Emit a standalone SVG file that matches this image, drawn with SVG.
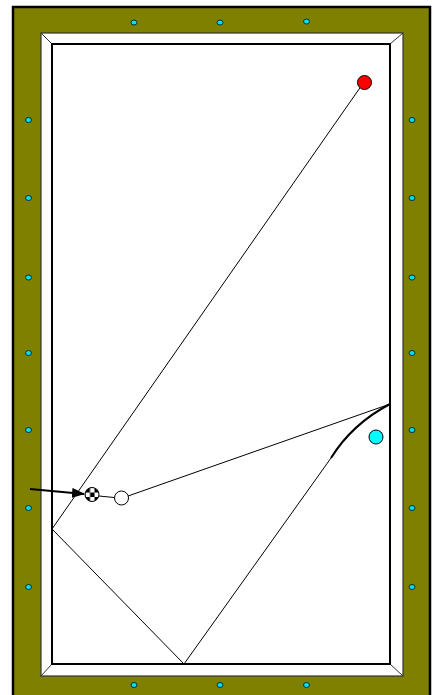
<svg xmlns="http://www.w3.org/2000/svg" width="433" height="695" viewBox="0 0 433 695">
<style>
.dia{fill:#00e0e8;stroke:#003040;stroke-width:1}
.path{fill:none;stroke:#000;stroke-width:1}
.ball{stroke:#000;stroke-width:1}
</style>
<defs>
<pattern id="chk" x="85.5" y="488" width="9" height="9" patternUnits="userSpaceOnUse">
<rect width="9" height="9" fill="#fff"/>
<rect width="4.5" height="4.5" fill="#000"/>
<rect x="4.5" y="4.5" width="4.5" height="4.5" fill="#000"/>
</pattern>
<marker id="arr" markerWidth="13" markerHeight="10" refX="12" refY="5" orient="auto" markerUnits="userSpaceOnUse">
<path d="M0,0 L13,5 L0,10 Z" fill="#000"/>
</marker>
</defs>
<rect width="433" height="695" fill="#fff"/>
<g id="table">
<rect x="13" y="7" width="417" height="700" fill="#808000" stroke="#000" stroke-width="2.5"/>
<rect x="41" y="33" width="362" height="643" fill="#fff" stroke="#333" stroke-width="1.2"/>
<path d="M41,33 L52,44 M403,33 L390,44 M41,676 L52,664 M403,676 L390,664" stroke="#333" stroke-width="1"/>
<rect x="52" y="44" width="338" height="620" fill="#fff" stroke="#000" stroke-width="2"/>
</g>
<g id="diamonds">
<ellipse class="dia" cx="134" cy="22.5" rx="3" ry="2.5"/>
<ellipse class="dia" cx="220" cy="22.5" rx="3" ry="2.5"/>
<ellipse class="dia" cx="306.5" cy="21.5" rx="3" ry="2.5"/>
<ellipse class="dia" cx="134" cy="685" rx="3" ry="2.5"/>
<ellipse class="dia" cx="220" cy="685" rx="3" ry="2.5"/>
<ellipse class="dia" cx="306.5" cy="685" rx="3" ry="2.5"/>
<ellipse class="dia" cx="28.5" cy="120" rx="3" ry="2.5"/>
<ellipse class="dia" cx="28.5" cy="198" rx="3" ry="2.5"/>
<ellipse class="dia" cx="28.5" cy="277.5" rx="3" ry="2.5"/>
<ellipse class="dia" cx="28.5" cy="353" rx="3" ry="2.5"/>
<ellipse class="dia" cx="28.5" cy="430" rx="3" ry="2.5"/>
<ellipse class="dia" cx="28.5" cy="508" rx="3" ry="2.5"/>
<ellipse class="dia" cx="28.5" cy="587" rx="3" ry="2.5"/>
<ellipse class="dia" cx="412" cy="120" rx="3" ry="2.5"/>
<ellipse class="dia" cx="412" cy="198" rx="3" ry="2.5"/>
<ellipse class="dia" cx="412" cy="277.5" rx="3" ry="2.5"/>
<ellipse class="dia" cx="412" cy="353" rx="3" ry="2.5"/>
<ellipse class="dia" cx="412" cy="430" rx="3" ry="2.5"/>
<ellipse class="dia" cx="412" cy="508" rx="3" ry="2.5"/>
<ellipse class="dia" cx="412" cy="587" rx="3" ry="2.5"/>
</g>
<g id="connectors">
<path class="path" d="M364,82 L52,529 L184,664 L331,458"/>
<path d="M331,458 Q352,424 390,404" fill="none" stroke="#000" stroke-width="2"/>
<path class="path" d="M128,496 L390,404"/>
<path class="path" d="M99,496 L114,497.5"/>
<path d="M30,489 L84,494" stroke="#000" stroke-width="2" marker-end="url(#arr)"/>
</g>
<g id="red-ball"><circle class="ball" cx="364.5" cy="82.5" r="7" fill="#ff0000"/></g>
<g id="cyan-ball"><circle class="ball" cx="376" cy="437" r="7" fill="#00ffff"/></g>
<g id="cue-ball-ghost"><circle class="ball" cx="121.5" cy="498" r="7" fill="#fff"/></g>
<g id="cue-ball"><circle class="ball" cx="92" cy="494.5" r="7" fill="url(#chk)"/></g>
</svg>
